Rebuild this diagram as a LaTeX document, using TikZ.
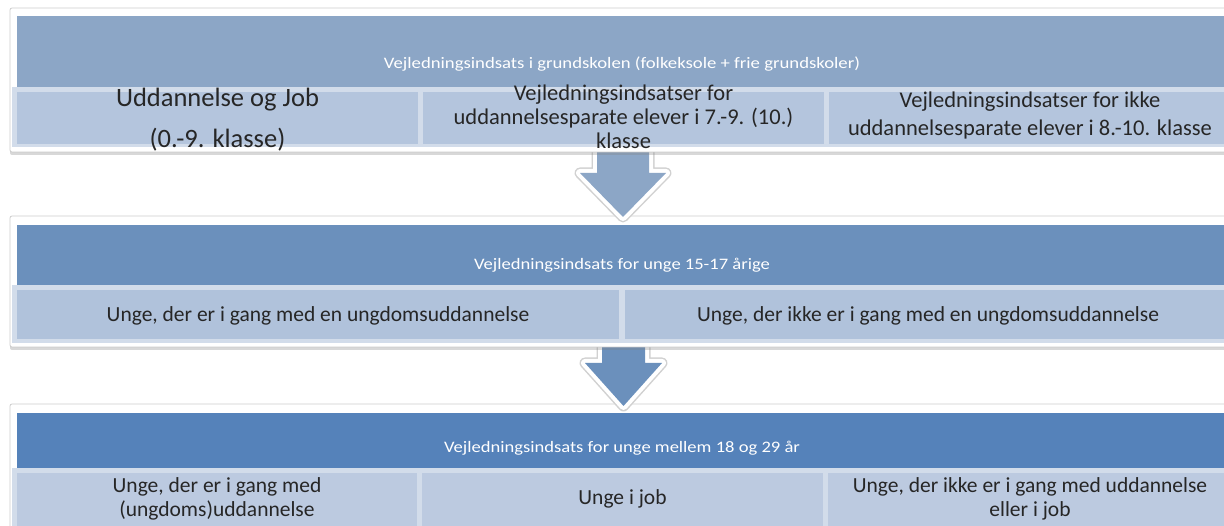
\documentclass[tikz,border=0pt]{standalone}
\usepackage{fontspec}
\setmainfont{Carlito}
\usepackage{graphicx}
\usetikzlibrary{shadows}
\definecolor{hdrA}{HTML}{8CA6C6}
\definecolor{cellA}{HTML}{B4C5DD}
\definecolor{hdrB}{HTML}{6B90BC}
\definecolor{cellB}{HTML}{B0C2DB}
\definecolor{hdrC}{HTML}{5582BA}
\definecolor{cellC}{HTML}{BCCAE0}
\definecolor{strip}{HTML}{D2DCEA}
\definecolor{frameline}{HTML}{CCCCCC}
\definecolor{txt}{HTML}{262626}
\begin{document}
\begin{tikzpicture}[x=1pt,y=-1pt,
  frame/.style={fill=white, draw=frameline, line width=0.8pt, rounded corners=2pt,
    drop shadow={shadow xshift=0pt, shadow yshift=-3pt, opacity=0.3}},
  hdrtxt/.style={text=white, font=\fontsize{16}{19}\selectfont, inner sep=0pt, anchor=base},
  celltxt/.style={text=txt, align=center, inner sep=0pt},
  blockarrow/.style={preaction={draw=black!18, line width=11pt, line join=round},
    preaction={draw=white, line width=8pt, line join=round}}
]
\useasboundingbox (0,0) rectangle (1224,526);
\clip (0,0) rectangle (1224,526);
\fill[white] (0,0) rectangle (1224,526);

% ---------- panel 3 ----------
\path[frame] (10,404) rectangle (1245,545);
\fill[hdrC] (17,413) rectangle (1232,468);
\fill[strip] (12,468) rectangle (1236,545);
\fill[cellC] (17,473) rectangle (417,545);
\fill[cellC] (422,473) rectangle (823,545);
\fill[cellC] (828,473) rectangle (1236,545);
\node[hdrtxt] (h3) at (622,453) {\scalebox{1.16}[1]{Vejledningsindsats for unge mellem 18 og 29 år}};
\node[celltxt, font=\fontsize{21.5}{24.5}\selectfont] (c31) at (217,499) {Unge, der er i gang med\\(ungdoms)uddannelse};
\node[celltxt, font=\fontsize{21.5}{24.5}\selectfont] (c32) at (622.5,499) {Unge i job};
\node[celltxt, font=\fontsize{21.5}{24.5}\selectfont] (c33) at (1030,499) {Unge, der ikke er i gang med uddannelse\\eller i job};

% ---------- arrow 2 ----------
\path[blockarrow, fill=hdrB] (602,330) -- (602,363) -- (585,363) -- (623.5,406) -- (662,363) -- (645,363) -- (645,330) -- cycle;

% ---------- panel 2 ----------
\path[frame] (10,216) rectangle (1245,347);
\fill[hdrB] (17,225) rectangle (1232,285);
\fill[strip] (12,285) rectangle (1236,343);
\fill[cellB] (17,290) rectangle (619,339);
\fill[cellB] (625,290) rectangle (1236,339);
\node[hdrtxt] (h2) at (622,270) {\scalebox{1.16}[1]{Vejledningsindsats for unge 15-17 årige}};
\node[celltxt, anchor=base, font=\fontsize{21.5}{24}\selectfont] (c21) at (318,322) {Unge, der er i gang med en ungdomsuddannelse};
\node[celltxt, anchor=base, font=\fontsize{21.5}{24}\selectfont] (c22) at (928,322) {Unge, der ikke er i gang med en ungdomsuddannelse};

% ---------- arrow 1 ----------
\path[blockarrow, fill=hdrA] (597,140) -- (597,173) -- (580,173) -- (623,217) -- (666,173) -- (649,173) -- (649,140) -- cycle;

% ---------- panel 1 ----------
\path[frame] (10,8) rectangle (1245,152);
\fill[hdrA] (17,16) rectangle (1232,87);
\fill[strip] (12,87) rectangle (1236,147);
\fill[cellA] (17,92) rectangle (418,144);
\fill[cellA] (423,92) rectangle (824,144);
\fill[cellA] (829,92) rectangle (1236,144);
\node[hdrtxt] (h1) at (622,69) {\scalebox{1.17}[1]{Vejledningsindsats i grundskolen (folkeksole + frie grundskoler)}};
\node[celltxt, font=\fontsize{26.5}{41}\selectfont] (c11) at (217.5,120) {Uddannelse og Job\\(0.-9. klasse)};
\node[celltxt, font=\fontsize{22.5}{24}\selectfont] (c12) at (623.5,117) {Vejledningsindsatser for\\uddannelsesparate elever i 7.-9. (10.)\\klasse};
\node[celltxt, font=\fontsize{22.5}{28}\selectfont] (c13) at (1030,116) {Vejledningsindsatser for ikke\\uddannelsesparate elever i 8.-10. klasse};
\end{tikzpicture}
\end{document}
